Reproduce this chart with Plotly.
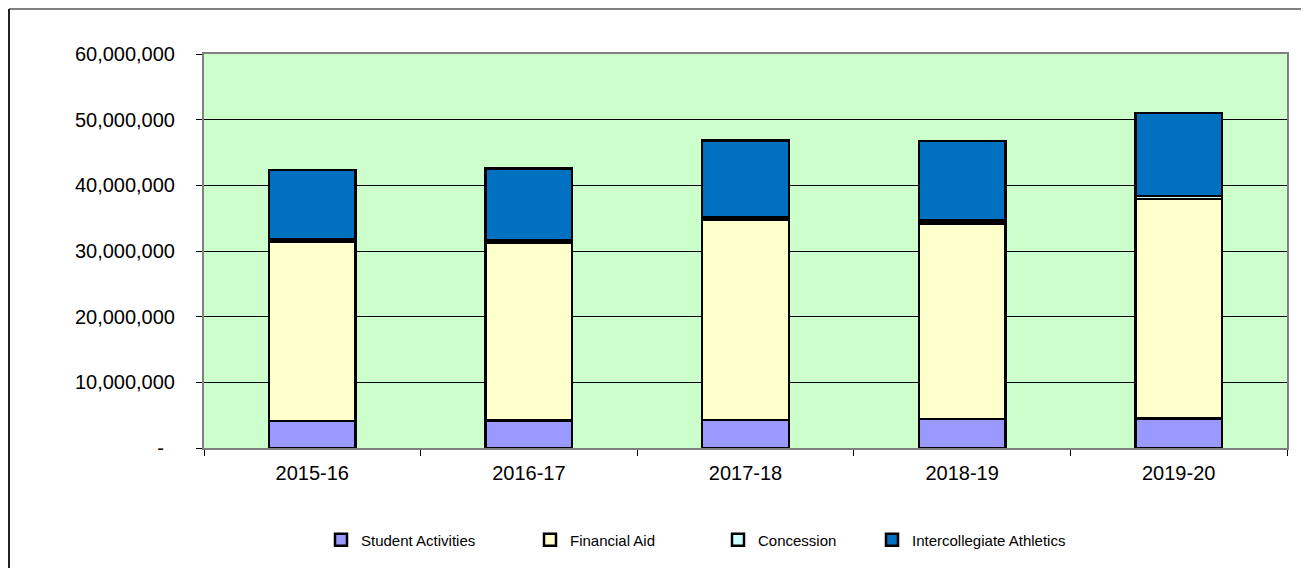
import plotly.graph_objects as go

years = ['2015-16', '2016-17', '2017-18', '2018-19', '2019-20']
student_activities = [4100000, 4200000, 4300000, 4400000, 4500000]
financial_aid = [27300000, 27100000, 30500000, 29800000, 33400000]
concession = [350000, 400000, 400000, 450000, 500000]
intercollegiate_athletics = [10600000, 10900000, 11600000, 12100000, 12600000]

y_ticks = [0, 10000000, 20000000, 30000000, 40000000, 50000000, 60000000]
y_labels = ['-\u00a0\u00a0', '10,000,000', '20,000,000', '30,000,000', '40,000,000', '50,000,000', '60,000,000']

# page body has an 8px margin, so work in figure coordinates
OFF = 8
W, H = 1309 - OFF, 568 - OFF
L, T = 204 - OFF, 54 - OFF
R = W - (1287 - OFF)
B = H - (448 - OFF)
pw, ph = W - L - R, H - T - B

FONT = 'Liberation Sans, Arial'

series = [
    ('Student Activities', student_activities, '#9999FF', 'legend', 357),
    ('Financial Aid', financial_aid, '#FFFFCC', 'legend2', 566),
    ('Concession', concession, '#CCFFFF', 'legend3', 754),
    ('Intercollegiate Athletics', intercollegiate_athletics, '#0070C0', 'legend4', 908),
]

fig = go.Figure()
legends = {}
for name, vals, color, leg, text_x in series:
    fig.add_trace(go.Bar(x=years, y=vals, name=name, legend=leg,
                         marker=dict(color=color, line=dict(color='black', width=2.5))))
    lx = text_x - OFF - 36
    legends[leg] = dict(x=(lx - L) / pw, xanchor='left',
                        y=(H - (540 - OFF) - B) / ph, yanchor='middle',
                        orientation='h', bgcolor='rgba(0,0,0,0)',
                        font=dict(family=FONT, size=15, color='black'),
                        itemwidth=30)

fig.update_layout(
    barmode='stack', bargap=0.6,
    width=W, height=H,
    margin=dict(l=L, r=R, t=T, b=B),
    paper_bgcolor='white', plot_bgcolor='#CCFFCC',
    font=dict(family=FONT, size=20, color='black'),
    showlegend=True,
    **legends,
)

fig.update_yaxes(range=[0, 60000000], tickvals=y_ticks, ticktext=y_labels,
                 showgrid=True, gridcolor='black', gridwidth=1,
                 ticks='outside', ticklen=6, tickcolor='black', ticklabelstandoff=17,
                 showline=True, linecolor='#808080', linewidth=2, mirror=True, zeroline=False)
fig.update_xaxes(tickson='boundaries', ticks='outside', ticklen=6, tickcolor='black',
                 ticklabelstandoff=6,
                 showline=True, linecolor='#808080', linewidth=2, mirror=True)

# outer chart border (top and left edges)
bx = (1 - L) / pw
by = (H - 1 - B) / ph
fig.add_shape(type='line', xref='paper', yref='paper', x0=bx, x1=(W + 5 - L) / pw, y0=by, y1=by,
              line=dict(color='#808080', width=2))
fig.add_shape(type='line', xref='paper', yref='paper', x0=bx, x1=bx, y0=by, y1=(-5 - B) / ph,
              line=dict(color='#222222', width=2))

fig.write_html("out.html")
